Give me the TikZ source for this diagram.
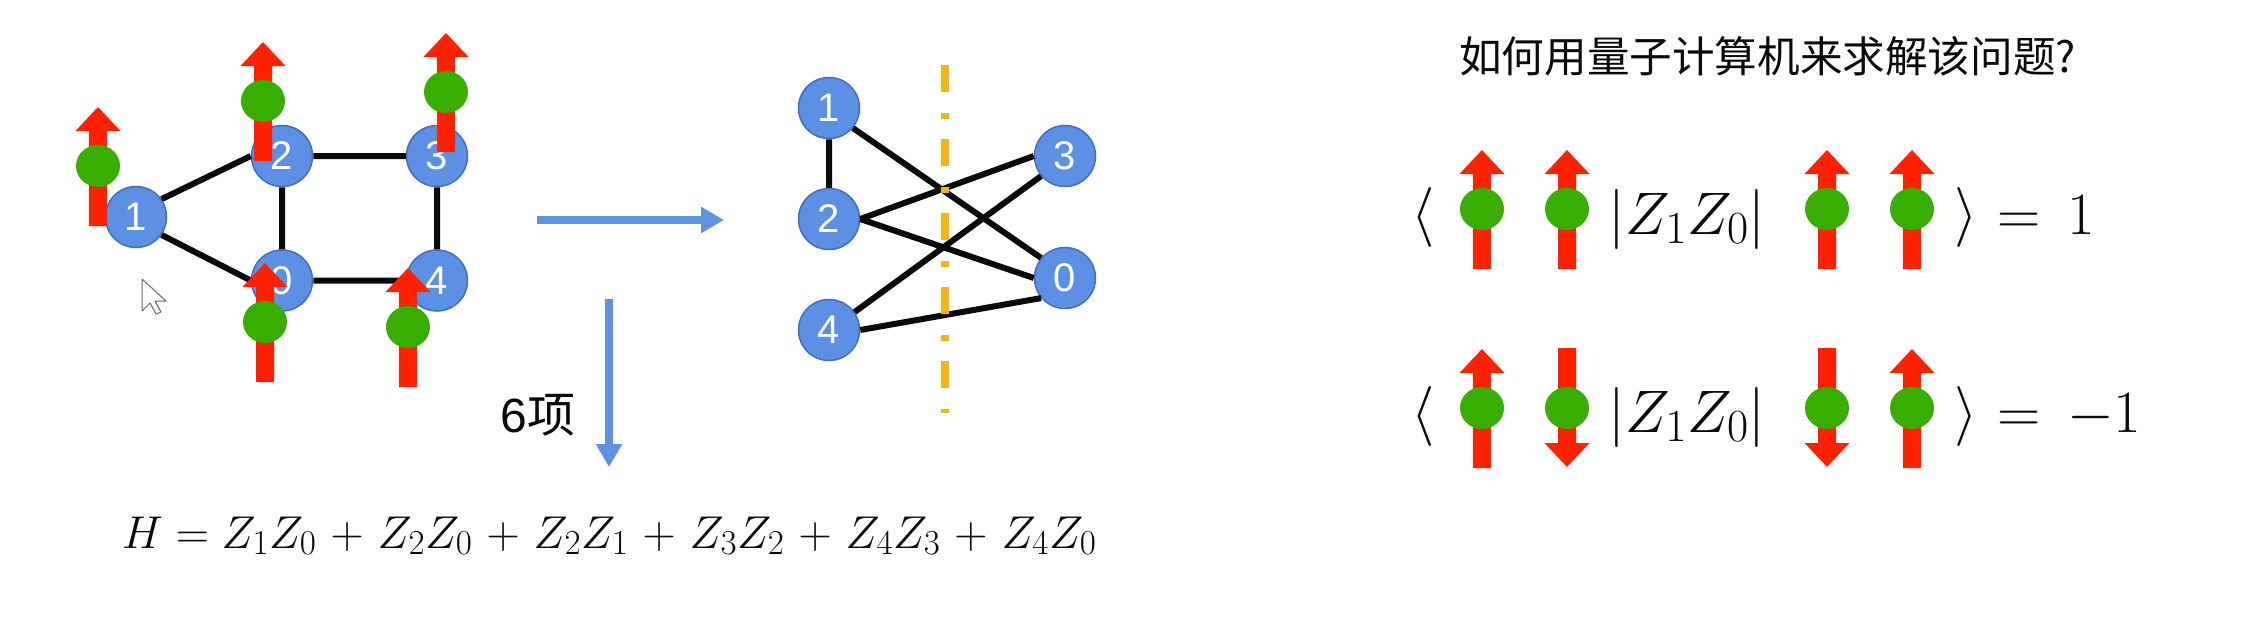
\RequirePackage{fix-cm}
\documentclass[tikz,border=0pt]{standalone}
\usepackage{fontspec}
\usepackage{amsmath}
\usetikzlibrary{arrows.meta}
\setmainfont{Liberation Sans}
\newfontfamily\cjk{Noto Sans CJK SC}
\definecolor{nodeblue}{HTML}{5B90E4}
\definecolor{nodeedge}{HTML}{3F6FBE}
\definecolor{arrowblue}{HTML}{5E93E2}
\definecolor{spinred}{HTML}{FF2200}
\definecolor{spingreen}{HTML}{38AE00}
\definecolor{cutorange}{HTML}{F5B511}
\definecolor{inkblack}{HTML}{0A0A0A}
\DeclareMathSizes{46}{46}{35}{26}
\DeclareMathSizes{60}{60}{46}{34}
\newcommand{\eqfont}{\fontsize{46}{52}\selectfont}
\newcommand{\braketfont}{\fontsize{60}{68}\selectfont}
\tikzset{
  x=1pt,y=-1pt,
  qubit/.style={circle,fill=nodeblue,draw=nodeedge,line width=1.5pt,minimum size=61pt,inner sep=0pt,text=white,font=\fontsize{40}{41}\selectfont},
  edgeline/.style={line width=6pt,draw=inkblack},
  bluearrow/.style={line width=7.5pt,draw=arrowblue,-{Triangle[length=23pt,width=25pt]}},
  cutline/.style={line width=7.5pt,draw=cutorange,dash pattern=on 27pt off 21pt on 6pt off 20pt},
  textlabel/.style={inner sep=0pt,text=inkblack},
  spin/.pic={
    \fill[spinred] (-9,0) -- (-9,-95) -- (-22.5,-95) -- (0,-119) -- (22.5,-95) -- (9,-95) -- (9,0) -- cycle;
    \fill[spingreen] (0,-60) ellipse [x radius=22,y radius=21];
  }
}
\begin{document}
\begin{tikzpicture}
\useasboundingbox (0,0) rectangle (2257,616);
% left graph
\node[qubit] (a1) at (136,217) {1};
\node[qubit] (a2) at (282,156) {2};
\node[qubit] (a3) at (437,156) {3};
\node[qubit] (a0) at (282,280.5) {0};
\node[qubit] (a4) at (437,280.5) {4};
\draw[edgeline] (a1.35)--(a2.west) (a2)--(a3) (a3)--(a4) (a4)--(a0) (a0.west)--(a1.-35) (a2)--(a0);
\pic at (98,226) {spin};
\pic at (263,161) {spin};
\pic at (446,152) {spin};
\pic at (265,382) {spin};
\pic at (408,387) {spin};
% cursor
\draw[fill=white,draw=gray!80!black,line width=1pt,line join=round] (142,279) -- (142,311) -- (150,303) -- (156,314) -- (161,312) -- (155,301) -- (166,301) -- cycle;
% blue arrows
\coordinate (hs) at (537,220);
\coordinate (he) at (724,220);
\coordinate (vs) at (609,299);
\coordinate (ve) at (609,467);
\draw[bluearrow] (hs) -- (he);
\draw[bluearrow] (vs) -- (ve);
\node[textlabel,font=\fontsize{48}{54}\selectfont] (six) at (538,415) {6{\cjk 项}};
% bipartite
\node[qubit] (b1) at (829,108) {1};
\node[qubit] (b2) at (829,219) {2};
\node[qubit] (b4) at (829,330) {4};
\node[qubit] (b3) at (1065,156) {3};
\node[qubit] (b0) at (1065,278) {0};
\draw[edgeline] (b1)--(b2) (b1.-40)--(b0.140) (b2.east)--(b3.west) (b2.east)--(b0.west) (b4.35)--(b3.-140) (b4.east)--(b0.-140);
\coordinate (cs) at (945,65);
\coordinate (ce) at (945,413);
\draw[cutline] (cs) -- (ce);
% Hamiltonian
\node[textlabel,anchor=base west,font=\eqfont] (ham) at (122,548) {$\medmuskip=5.5mu plus 1mu minus 1mu H=Z_1Z_0+Z_2Z_0+Z_2Z_1+Z_3Z_2+Z_4Z_3+Z_4Z_0$};
% title
\node[textlabel,anchor=west,font=\fontsize{42.6}{48}\selectfont] (title) at (1459,56) {\cjk 如何用量子计算机来求解该问题?};
% row 1
\node[textlabel,font=\braketfont] (bra1) at (1423,217) {$\langle$};
\pic at (1482,269) {spin};
\pic at (1567,269) {spin};
\node[textlabel,anchor=base,font=\braketfont] (op1) at (1687,234) {$|Z_1Z_0|$};
\pic at (1827,269) {spin};
\pic at (1912,269) {spin};
\node[textlabel,font=\braketfont] (ket1) at (1966,217) {$\rangle$};
\node[textlabel,anchor=base west,font=\braketfont] (val1) at (1997,234) {$=\,1$};
% row 2
\node[textlabel,font=\braketfont] (bra2) at (1423,416) {$\langle$};
\pic at (1482,468) {spin};
\pic[yscale=-1] at (1567,348) {spin};
\node[textlabel,anchor=base,font=\braketfont] (op2) at (1687,432) {$|Z_1Z_0|$};
\pic[yscale=-1] at (1827,348) {spin};
\pic at (1912,468) {spin};
\node[textlabel,font=\braketfont] (ket2) at (1966,416) {$\rangle$};
\node[textlabel,anchor=base west,font=\braketfont] (val2) at (1997,432) {$=\,-1$};
\end{tikzpicture}
\end{document}
